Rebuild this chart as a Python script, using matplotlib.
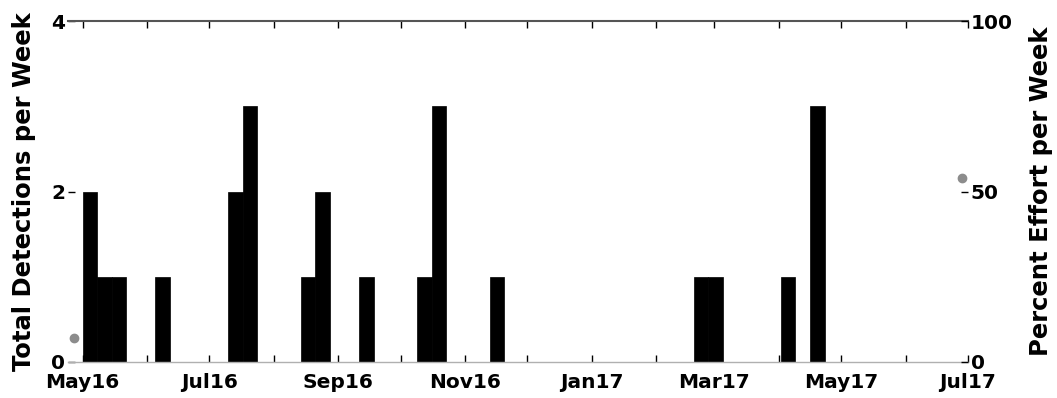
import datetime as dt
import matplotlib
matplotlib.use("Agg")
import matplotlib.pyplot as plt
import matplotlib.dates as mdates

plt.rcParams['font.family'] = ['DejaVu Sans']
plt.rcParams['font.weight'] = 'bold'

# weekly detection counts (week start dates)
week_starts = ["2016-05-01", "2016-05-08", "2016-05-15", "2016-06-05",
               "2016-07-10", "2016-07-17", "2016-08-14", "2016-08-21",
               "2016-09-11", "2016-10-09", "2016-10-16", "2016-11-13",
               "2017-02-19", "2017-02-26", "2017-04-02", "2017-04-16"]
detections = [2, 1, 1, 1, 2, 3, 1, 2, 1, 1, 3, 1, 1, 1, 1, 3]

# partial-effort weeks (percent effort)
effort_dates = ["2016-04-27", "2017-06-28"]
effort_pct = [7, 54]

tick_months = ["2016-05-01", "2016-07-01", "2016-09-01", "2016-11-01",
               "2017-01-01", "2017-03-01", "2017-05-01", "2017-07-01"]
tick_labels = ["May16", "Jul16", "Sep16", "Nov16", "Jan17", "Mar17", "May17", "Jul17"]


def to_date(s):
    return dt.datetime.strptime(s, "%Y-%m-%d")


fig = plt.figure(figsize=(10.57, 3.98), dpi=100)
ax = fig.add_axes([0.0643, 0.0905, 0.8515, 0.8565])

ax.bar([to_date(d) for d in week_starts], detections, width=7, align='edge',
       color='black', edgecolor='black', linewidth=0.5, zorder=2)

ax.set_xlim(to_date("2016-04-24"), to_date("2017-07-01"))
ax.set_ylim(0, 4)
ax.set_yticks([0, 2, 4])
ax.set_ylabel("Total Detections per Week", fontsize=17.5, fontweight='bold', labelpad=11)

ax.set_xticks([to_date(d) for d in tick_months])
ax.set_xticklabels(tick_labels)
ax.xaxis.set_minor_locator(mdates.MonthLocator())
ax.tick_params(axis='x', which='both', direction='in', top=True, bottom=True,
               length=5, width=1, labelsize=14.5, pad=8)
ax.tick_params(axis='y', direction='in', length=5, width=1, labelsize=14.5, pad=2)

for side in ['left', 'right']:
    ax.spines[side].set_visible(False)
ax.spines['top'].set_color('#555555')
ax.spines['top'].set_linewidth(1.5)
ax.spines['bottom'].set_color('#b0b0b0')
ax.spines['bottom'].set_linewidth(1)

ax2 = ax.twinx()
ax2.plot([to_date(d) for d in effort_dates], effort_pct, 'o', color='#8c8c8c',
         markersize=6, clip_on=False, zorder=3)
ax2.set_ylim(0, 100)
ax2.set_yticks([0, 50, 100])
ax2.tick_params(axis='y', direction='in', length=5, width=1, labelsize=14.5, pad=2)
ax2.set_ylabel("Percent Effort per Week", fontsize=17.5, fontweight='bold', labelpad=12)
for side in ['left', 'right', 'top', 'bottom']:
    ax2.spines[side].set_visible(False)

fig.savefig("out.png", dpi=100)
